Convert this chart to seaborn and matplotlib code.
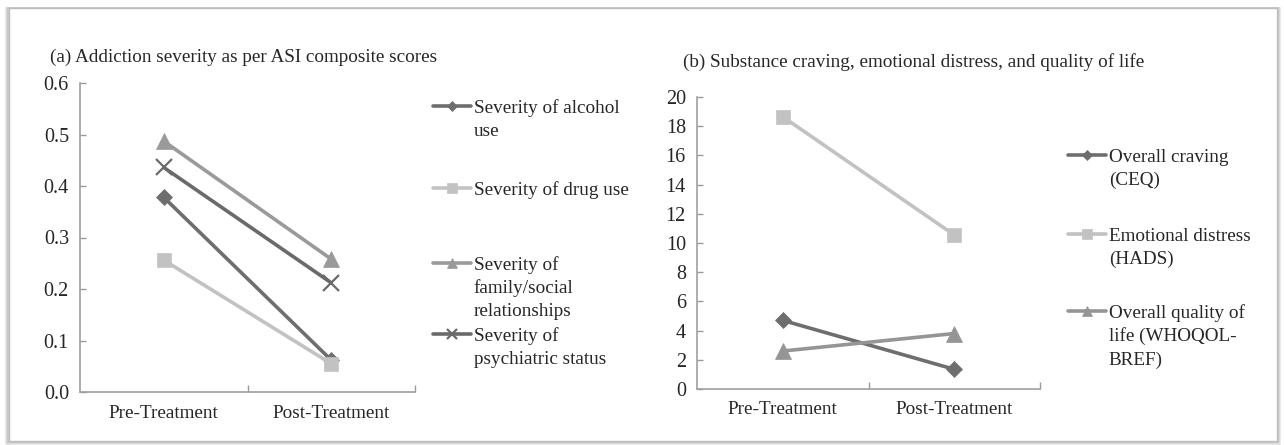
import matplotlib
matplotlib.use("Agg")
import matplotlib.pyplot as plt
import matplotlib.patches as mpatches
import seaborn as sns
import pandas as pd

# Time points
timepoints = ["Pre-Treatment", "Post-Treatment"]

# (a) ASI composite scores
asi_labels = [
    "Severity of alcohol\nuse",
    "Severity of drug use",
    "Severity of\nfamily/social\nrelationships",
    "Severity of\npsychiatric status",
]
asi_alcohol = [0.378, 0.062]
asi_drug = [0.256, 0.055]
asi_family = [0.487, 0.258]
asi_psych = [0.436, 0.212]

# (b) craving, distress, quality of life
b_labels = [
    "Overall craving\n(CEQ)",
    "Emotional distress\n(HADS)",
    "Overall quality of\nlife (WHOQOL-\nBREF)",
]
craving = [4.7, 1.35]
distress = [18.65, 10.55]
qol = [2.6, 3.8]

sns.set_theme(style="white")
plt.rcParams["font.family"] = ["Liberation Serif", "DejaVu Serif"]
plt.rcParams["text.color"] = "#262626"
plt.rcParams["xtick.color"] = "#262626"
plt.rcParams["ytick.color"] = "#262626"

FS = 13.8
LINE_PX = 23.5

W, H = 1284, 445
fig = plt.figure(figsize=(W / 100, H / 100), dpi=100)
fig.patch.set_facecolor("white")


def px_axes(x0, x1, ytop, ybot):
    return fig.add_axes([x0 / W, (H - ybot) / H, (x1 - x0) / W, (ybot - ytop) / H])


ax_a = px_axes(80, 415, 83, 392)
ax_b = px_axes(697, 1040, 97, 389)

style_a = [
    dict(marker="D", color="#6e6e6e", ms=8),
    dict(marker="s", color="#c2c2c2", ms=10),
    dict(marker="^", color="#9a9a9a", ms=11),
    dict(marker="x", color="#6a6a6a", ms=11),
]
style_b = [
    dict(marker="D", color="#6e6e6e", ms=8),
    dict(marker="s", color="#c2c2c2", ms=10),
    dict(marker="^", color="#959595", ms=11),
]


def draw(ax, series, labels, styles):
    for vals, lab, st in zip(series, labels, styles):
        df = pd.DataFrame({"time": timepoints, "score": vals})
        sns.lineplot(
            data=df, x="time", y="score", ax=ax, label=lab,
            color=st["color"], marker=st["marker"], markersize=st["ms"],
            markeredgecolor=st["color"], markerfacecolor=st["color"],
            markeredgewidth=1.6 if st["marker"] == "x" else 0.5,
            linewidth=2.6, sort=False,
        )


draw(ax_a, [asi_alcohol, asi_drug, asi_family, asi_psych], asi_labels, style_a)
draw(ax_b, [craving, distress, qol], b_labels, style_b)


def style_axes(ax, ylim, yticks, fmt):
    ax.set_xlim(-0.5, 1.5)
    ax.set_ylim(*ylim)
    ax.set_yticks(yticks)
    ax.set_yticklabels([fmt.format(v) for v in yticks], fontsize=FS + 0.7)
    ax.set_xticks([0, 1])
    ax.set_xticklabels(timepoints, fontsize=FS)
    ax.set_xticks([0.5, 1.5], minor=True)
    ax.tick_params(axis="x", which="major", length=0, pad=9)
    ax.tick_params(axis="x", which="minor", direction="in", length=5,
                   color="#9a9a9a", width=1, bottom=True)
    ax.tick_params(axis="y", direction="in", length=4, color="#9a9a9a",
                   width=1, left=True, pad=8)
    for s in ["top", "right"]:
        ax.spines[s].set_visible(False)
    for s in ["left", "bottom"]:
        ax.spines[s].set_color("#a0a0a0")
        ax.spines[s].set_linewidth(1.2)
    ax.set_xlabel("")
    ax.set_ylabel("")
    ax.get_legend().remove()


style_axes(ax_a, (0, 0.6), [0, 0.1, 0.2, 0.3, 0.4, 0.5, 0.6], "{:.1f}")
style_axes(ax_b, (0, 20), list(range(0, 21, 2)), "{:d}")


def place_legends(ax, labels, centers, x_left):
    # Each entry: the handle sits beside the first line; further lines wrap below it.
    handles = ax.get_lines()
    pending = []
    for h, lab, yc in zip(handles, labels, centers):
        lines = lab.split("\n")
        leg = fig.legend(
            [h], [lines[0]], loc="center left",
            bbox_to_anchor=(x_left / W, (H - yc) / H),
            frameon=False, fontsize=FS, handlelength=2.0,
            handletextpad=0.12, markerscale=0.7, borderpad=0,
            borderaxespad=0,
        )
        pending.append((leg, lines[1:], yc))
    fig.canvas.draw()
    for leg, rest, yc in pending:
        x0 = leg.get_texts()[0].get_window_extent().x0
        for k, line in enumerate(rest, start=1):
            fig.text(x0 / W, (H - yc - k * LINE_PX) / H, line,
                     fontsize=FS, va="center", ha="left")


place_legends(ax_a, asi_labels, [108, 190, 265, 336], 433)
place_legends(ax_b, b_labels, [157, 236, 313], 1068)

fig.text(50 / W, (H - 57) / H, "(a) Addiction severity as per ASI composite scores",
         fontsize=FS, va="center", ha="left")
fig.text(683 / W, (H - 62) / H,
         "(b) Substance craving, emotional distress, and quality of life",
         fontsize=FS, va="center", ha="left")

# Card frame with a soft shadow
for off, col in [(3, "#e6e6e6"), (2, "#d6d6d6"), (1, "#c4c4c4")]:
    fig.add_artist(mpatches.Rectangle(
        ((9 - off) / W, (H - 441 - off) / H), (1268 + 2 * off) / W, (433 + off) / H,
        transform=fig.transFigure, fill=False, edgecolor=col, linewidth=1.2,
    ))
fig.add_artist(mpatches.Rectangle(
    (9 / W, (H - 441) / H), 1268 / W, 433 / H,
    transform=fig.transFigure, fill=False, edgecolor="#bdbdbd", linewidth=1.0,
))

fig.savefig("out.png", dpi=100, facecolor="white")
